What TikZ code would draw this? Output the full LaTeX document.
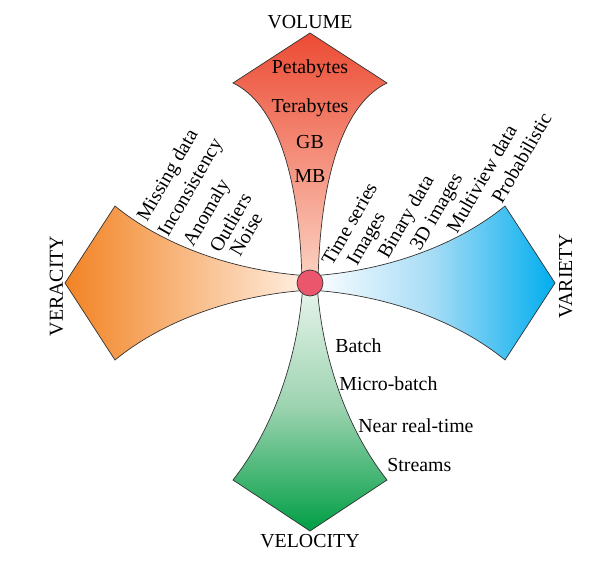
\documentclass[tikz,border=0pt]{standalone}
\usepackage{fontspec}
\setmainfont{Liberation Serif}
\usepackage{tikz}
\usetikzlibrary{positioning}

\definecolor{volred}{HTML}{EC4B34}
\definecolor{vollight}{HTML}{FCD4C4}
\definecolor{veror}{HTML}{F28324}
\definecolor{verlight}{HTML}{FFF1E5}
\definecolor{varblue}{HTML}{00ADEE}
\definecolor{varmid}{HTML}{A6DCF6}
\definecolor{velgreen}{HTML}{009E45}
\definecolor{velmid}{HTML}{9CD3B0}
\definecolor{vellight}{HTML}{EAF5EE}
\definecolor{hubred}{HTML}{EC566C}

\begin{document}
\begin{tikzpicture}[x=0.02cm, y=0.02cm,
    petal/.style={draw=black!80, line width=0.4pt},
    hub/.style={circle, draw=black!80, line width=0.4pt, fill=hubred, minimum size=0.52cm, inner sep=0pt},
    lbl/.style={font=\fontsize{11.3}{13}\selectfont, inner sep=0pt},
    tag/.style={lbl, rotate=60, anchor=base west},
    axislbl/.style={lbl, anchor=base}]
  \useasboundingbox (-310,-285) rectangle (298,283);
  % the four petals
  \shade[petal, top color=volred, bottom color=vollight]
    (-8,0) .. controls (-10,110) and (-35,180) .. (-77,200) -- (0,250) -- (77,200)
    .. controls (35,180) and (10,110) .. (8,0) -- cycle;
  \shade[petal, left color=veror, right color=verlight]
    (0,7) .. controls (-80,12) and (-150,40) .. (-195,77) -- (-245,0) -- (-195,-77)
    .. controls (-150,-40) and (-80,-12) .. (0,-7) -- cycle;
  \shade[petal, left color=white, right color=varblue, middle color=varmid]
    (0,7) .. controls (80,12) and (150,40) .. (195,77) -- (245,0) -- (195,-77)
    .. controls (150,-40) and (80,-12) .. (0,-7) -- cycle;
  \shade[petal, top color=vellight, bottom color=velgreen, middle color=velmid]
    (-7,0) .. controls (-12,-80) and (-40,-150) .. (-77,-197) -- (0,-248) -- (77,-197)
    .. controls (40,-150) and (12,-80) .. (7,0) -- cycle;
  \node[hub] (hub) at (0,0) {};
  % axis names
  \node[axislbl] (volume) at (0,254) {VOLUME};
  \node[axislbl] (velocity) at (0,-264) {VELOCITY};
  \node[axislbl, rotate=90] (veracity) at (-247,-3) {VERACITY};
  \node[axislbl, rotate=90] (variety) at (262,7) {VARIETY};
  % volume
  \node[axislbl] (peta) at (0,209) {Petabytes};
  \node[axislbl] (tera) at (0,170) {Terabytes};
  \node[axislbl] (gb) at (0,134) {GB};
  \node[axislbl] (mb) at (0,100) {MB};
  % velocity
  \node[lbl, anchor=base west] (batch) at (25,-69) {Batch};
  \node[lbl, anchor=base west] (micro) at (29,-107) {Micro-batch};
  \node[lbl, anchor=base west] (nrt) at (48,-149) {Near real-time};
  \node[lbl, anchor=base west] (streams) at (77,-188) {Streams};
  % veracity
  \node[tag] (missing) at (-163,60) {Missing data};
  \node[tag] (incons) at (-142,45) {Inconsistency};
  \node[tag] (anomaly) at (-117,35) {Anomaly};
  \node[tag] (outliers) at (-90,29) {Outliers};
  \node[tag] (noise) at (-70,25) {Noise};
  % variety
  \node[tag] (tseries) at (22,16) {Time series};
  \node[tag] (images) at (47,16) {Images};
  \node[tag] (binary) at (78,23) {Binary data};
  \node[tag] (threed) at (110,31) {3D images};
  \node[tag] (multi) at (147,48) {Multiview data};
  \node[tag] (prob) at (192,78) {Probabilistic};
\end{tikzpicture}
\end{document}
